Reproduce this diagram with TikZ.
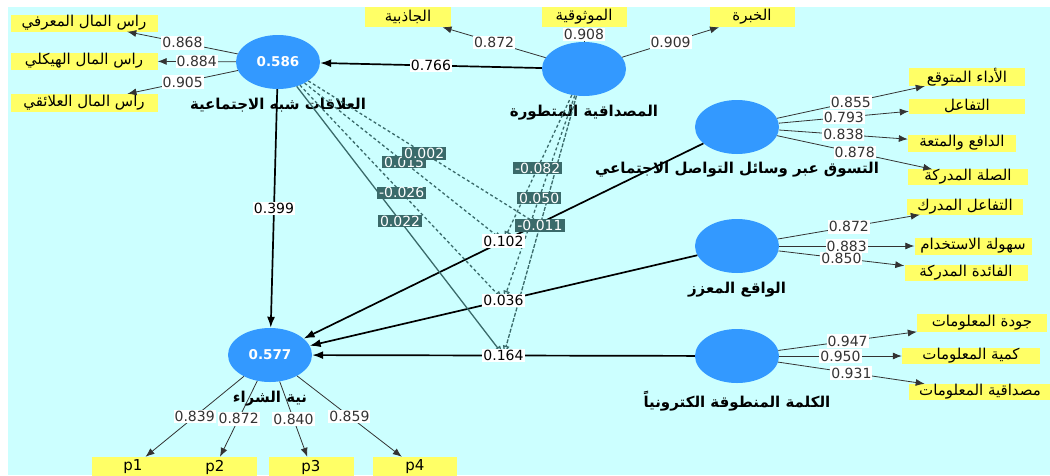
\documentclass[tikz,border=0pt]{standalone}
\usepackage{fontspec}
\setmainfont{DejaVu Sans}
\newfontfamily\arabicfont[Script=Arabic]{DejaVu Sans}
\TeXXeTstate=1
\usepackage{xcolor}
\usepackage{tikz}
\usetikzlibrary{arrows.meta, positioning, shapes.geometric, calc}

\definecolor{plsbg}{RGB}{204,255,255}
\definecolor{plsblue}{RGB}{51,153,255}
\definecolor{plsyellow}{RGB}{255,255,102}
\definecolor{plsteal}{RGB}{58,106,106}
\newcommand{\artext}[1]{{\arabicfont\beginR #1\endR}}

\begin{document}
\begin{tikzpicture}[
    x=1pt, y=-1pt,
    font=\fontsize{14}{16}\selectfont,
    latent/.style={
        ellipse,
        fill=plsblue,
        minimum width=84pt,
        minimum height=54pt,
        inner sep=0pt,
        text=white,
        font=\fontsize{13.5}{15}\selectfont\bfseries
    },
    lvname/.style={
        inner sep=0pt,
        font=\fontsize{15}{17}\selectfont\bfseries
    },
    indicator/.style={
        fill=plsyellow,
        minimum height=16pt,
        inner sep=0pt,
        font=\fontsize{15}{17}\selectfont
    },
    loading/.style={-{Latex[length=9pt,width=7pt]}, line width=0.8pt, black!80},
    structural/.style={-{Latex[length=11pt,width=8pt]}, line width=1.7pt},
    modline/.style={
        -{Latex[open,length=10pt,width=7pt]},
        plsteal,
        line width=1.3pt,
        dash pattern=on 3pt off 2.5pt
    },
    coef/.style={fill=white, inner xsep=1pt, inner ysep=1.5pt},
    modcoef/.style={fill=plsteal, text=white, inner xsep=2pt, inner ysep=1pt}
]

% background
\fill[white] (0,0) rectangle (1050,475);
\fill[plsbg] (8,7) rectangle (1050,475);
\useasboundingbox (0,0) rectangle (1050,475);

% Latent variables
\node[latent] (rel) at (278,62) {0.586};
\node[latent] (cred) at (584,69) {};
\node[latent] (smm) at (737,127) {};
\node[latent] (ar) at (737,246) {};
\node[latent] (ewom) at (737,356) {};
\node[latent] (intent) at (270,355) {0.577};

\node[lvname, below=9pt of rel] (relname) {\artext{العلاقات شبه الاجتماعية}};
\node[lvname, below=9pt of cred] (credname) {\artext{المصداقية المتطورة}};
\node[lvname, below=8pt of smm] (smmname) {\artext{التسوق عبر وسائل التواصل الاجتماعي}};
\node[lvname, below=9pt of ar] (arname) {\artext{الواقع المعزز}};
\node[lvname, below=8pt of ewom] (ewomname) {\artext{الكلمة المنطوقة الكترونياً}};
\node[lvname, below=9pt of intent] (intentname) {\artext{نية الشراء}};

% Indicators
\node[indicator, minimum width=147pt, minimum height=17pt] (rel1) at (84,23) {\artext{راس المال المعرفي}};
\node[indicator, minimum width=147pt, minimum height=17pt] (rel2) at (84,61) {\artext{راس المال الهيكلي}};
\node[indicator, minimum width=147pt, minimum height=18pt] (rel3) at (84,103) {\artext{راس المال العلائقي}};

\node[indicator, minimum width=86pt, minimum height=20pt] (cred1) at (408,17) {\artext{الجاذبية}};
\node[indicator, minimum width=85pt, minimum height=20pt] (cred2) at (584,17) {\artext{الموثوقية}};
\node[indicator, minimum width=85pt, minimum height=20pt] (cred3) at (752,17) {\artext{الخبرة}};

\node[indicator, minimum width=116pt] (smm1) at (967,77) {\artext{الأداء المتوقع}};
\node[indicator, minimum width=116pt, minimum height=15pt] (smm2) at (967,106) {\artext{التفاعل}};
\node[indicator, minimum width=108pt, minimum height=17pt] (smm3) at (962,143) {\artext{الدافع والمتعة}};
\node[indicator, minimum width=120pt, minimum height=14pt] (smm4) at (968,177) {\artext{الصلة المدركة}};

\node[indicator, minimum width=116pt, minimum height=15pt] (ar1) at (965,207) {\artext{التفاعل المدرك}};
\node[indicator, minimum width=117pt, minimum height=17pt] (ar2) at (973,246) {\artext{سهولة الاستخدام}};
\node[indicator, minimum width=123pt, minimum height=14pt] (ar3) at (966,273) {\artext{الفائدة المدركة}};

\node[indicator, minimum width=130pt, minimum height=18pt] (ewom1) at (982,323) {\artext{جودة المعلومات}};
\node[indicator, minimum width=138pt] (ewom2) at (971,356) {\artext{كمية المعلومات}};
\node[indicator, minimum width=142pt] (ewom3) at (980,392) {\artext{مصداقية المعلومات}};

\node[indicator, minimum width=82pt, minimum height=20pt] (int1) at (133,467) {p1};
\node[indicator, minimum width=83pt, minimum height=20pt] (int2) at (215,467) {p2};
\node[indicator, minimum width=85pt, minimum height=20pt] (int3) at (311,467) {p3};
\node[indicator, minimum width=84pt, minimum height=20pt] (int4) at (415,467) {p4};

% Outer loadings
\draw[loading] (rel) -- node[coef] (lrel1) {0.868} (rel1);
\draw[loading] (rel) -- node[coef] (lrel2) {0.884} (rel2);
\draw[loading] (rel) -- node[coef] (lrel3) {0.905} (rel3);

\draw[loading] (cred) -- node[coef] (lcred1) {0.872} (cred1);
\draw[loading] (cred) -- node[coef] (lcred2) {0.908} (cred2);
\draw[loading] (cred) -- node[coef] (lcred3) {0.909} (cred3);

\draw[loading] (smm) -- node[coef] (lsmm1) {0.855} (smm1);
\draw[loading] (smm) -- node[coef] (lsmm2) {0.793} (smm2);
\draw[loading] (smm) -- node[coef] (lsmm3) {0.838} (smm3);
\draw[loading] (smm) -- node[coef] (lsmm4) {0.878} (smm4);

\draw[loading] (ar) -- node[coef] (lar1) {0.872} (ar1);
\draw[loading] (ar) -- node[coef] (lar2) {0.883} (ar2);
\draw[loading] (ar) -- node[coef] (lar3) {0.850} (ar3);

\draw[loading] (ewom) -- node[coef] (lewom1) {0.947} (ewom1);
\draw[loading] (ewom) -- node[coef] (lewom2) {0.950} (ewom2);
\draw[loading] (ewom) -- node[coef] (lewom3) {0.931} (ewom3);

\draw[loading] (intent) -- node[coef] (lint1) {0.839} (int1);
\draw[loading] (intent) -- node[coef] (lint2) {0.872} (int2);
\draw[loading] (intent) -- node[coef] (lint3) {0.840} (int3);
\draw[loading] (intent) -- node[coef] (lint4) {0.859} (int4);

% Structural paths
\draw[structural] (rel) -- (intent);
\draw[structural] (cred) -- (rel);
\draw[structural] (smm) -- (intent);
\draw[structural] (ar) -- (intent);
\draw[structural] (ewom) -- (intent);

\coordinate (msmm) at ($(smm)!0.5!(intent)$);
\coordinate (mar) at ($(ar)!0.5!(intent)$);
\coordinate (mewom) at ($(ewom)!0.5!(intent)$);
\path (cred) -- coordinate[pos=0.5] (mcredewom) (mewom);

% Moderating effects
\draw[modline] (rel) -- (msmm);
\draw[modline] (rel) -- (mar);
\draw[modline, solid] (rel) -- (mewom);
\draw[modline] (rel) -- (mcredewom);
\draw[modline] (cred) -- (msmm);
\draw[modline] (cred) -- (mar);
\draw[modline, dash pattern=on 4pt off 1.5pt] (cred) -- (mewom);

\path (rel) -- node[modcoef] (irel1) {0.015} (msmm);
\path (rel) -- node[modcoef] (irel2) {-0.026} (mar);
\path (rel) -- node[modcoef] (irel3) {0.022} (mewom);
\path (rel) -- node[modcoef] (irel4) {0.002} (mcredewom);
\path (cred) -- node[modcoef] (icred1) {-0.082} (msmm);
\path (cred) -- node[modcoef] (icred2) {0.050} (mar);
\path (cred) -- node[modcoef] (icred3) {-0.011} (mewom);

% Path coefficients
\path (rel) -- node[coef] (prel) {0.399} (intent);
\path (cred) -- node[coef] (pcred) {0.766} (rel);
\path (smm) -- node[coef] (psmm) {0.102} (intent);
\path (ar) -- node[coef] (par) {0.036} (intent);
\path (ewom) -- node[coef] (pewom) {0.164} (intent);

\end{tikzpicture}
\end{document}
